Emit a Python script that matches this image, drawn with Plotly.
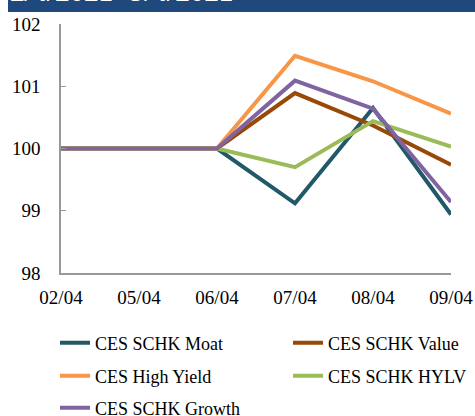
import plotly.graph_objects as go

dates = ["02/04", "05/04", "06/04", "07/04", "08/04", "09/04"]
moat = [100, 100, 100, 99.12, 100.65, 98.94]
value = [100, 100, 100, 100.89, 100.37, 99.74]
high_yield = [100, 100, 100, 101.49, 101.08, 100.56]
hylv = [100, 100, 100, 99.70, 100.44, 100.03]
growth = [100, 100, 100, 101.09, 100.64, 99.14]

names = ["CES SCHK Moat", "CES SCHK Value", "CES High Yield", "CES SCHK HYLV", "CES SCHK Growth"]
series = [moat, value, high_yield, hylv, growth]
colors = ["#215968", "#984807", "#F79646", "#9BBB59", "#8064A2"]
title_text = "2/4/2021 -9/4/2021"

W, H = 475, 416
ml, mr, mt, mb = 61, 24, 24, 143
pw, ph = W - ml - mr, H - mt - mb

def px_x(p):
    return (p - ml) / pw

def px_y(p):
    return (H - mb - p) / ph

serif = "Liberation Serif, Times New Roman, serif"

fig = go.Figure()
legend_ids = ["legend", "legend2", "legend3", "legend4", "legend5"]
# legend positions: (left x px, center y px)
legend_pos = [(55, 343), (288, 343), (55, 376), (288, 376), (55, 408)]
for i, (nm, s, c) in enumerate(zip(names, series, colors)):
    fig.add_trace(go.Scatter(x=dates, y=s, name=nm, mode="lines",
                             line=dict(color=c, width=4),
                             legend=legend_ids[i]))

layout_legends = {}
for i, lid in enumerate(legend_ids):
    lx, ly = legend_pos[i]
    layout_legends[lid] = dict(x=px_x(lx), y=px_y(ly), xanchor="left", yanchor="middle",
                               xref="paper", yref="paper",
                               font=dict(family=serif, size=18, color="#000"),
                               bgcolor="rgba(0,0,0,0)", borderwidth=0,
                               orientation="h")

fig.update_layout(
    width=W, height=H,
    margin=dict(l=ml, r=mr, t=mt, b=mb, autoexpand=False),
    paper_bgcolor="white", plot_bgcolor="white",
    showlegend=True,
    **layout_legends,
    xaxis=dict(type="category", range=[0, 5], showgrid=False, showline=True,
               linecolor="#999999", linewidth=1.5, ticks="",
               tickfont=dict(family=serif, size=19, color="#000"),
               ticklabelstandoff=6, zeroline=False),
    yaxis=dict(range=[98, 102], dtick=1, showgrid=False, showline=True,
               linecolor="#999999", linewidth=1.5, ticks="inside", ticklen=5,
               tickcolor="#999999", tickwidth=1,
               tickfont=dict(family=serif, size=19, color="#000"),
               ticklabelstandoff=15, zeroline=False),
)

fig.add_shape(type="rect", xref="paper", yref="paper",
              x0=px_x(8), x1=px_x(480), y0=px_y(12), y1=px_y(-10),
              fillcolor="#1F497D", line=dict(width=0), layer="above")
fig.add_annotation(text="<b>" + title_text + "</b>", xref="paper", yref="paper",
                   x=px_x(8), y=px_y(9), xanchor="left", yanchor="bottom",
                   showarrow=False,
                   font=dict(family=serif, size=29, color="white"))

fig.write_html("out.html", config={"displayModeBar": False},
               post_script="document.body.style.margin='0px';")
